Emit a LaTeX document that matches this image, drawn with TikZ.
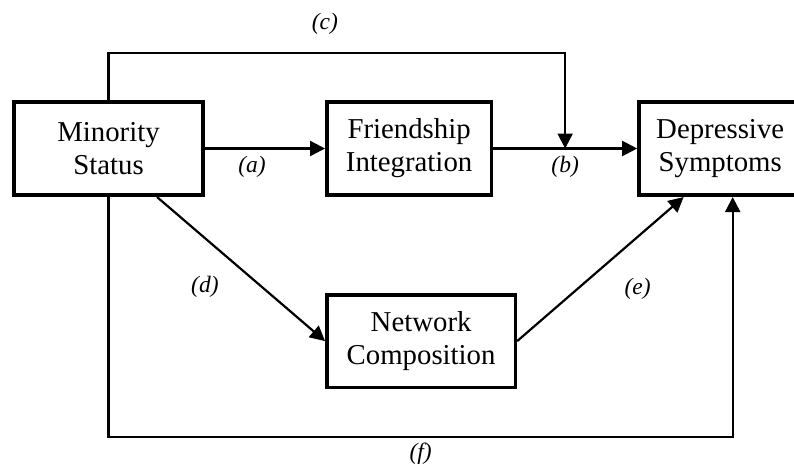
\documentclass[tikz,border=0pt]{standalone}
\usepackage{fontspec}
\setmainfont{Liberation Serif}
\usetikzlibrary{arrows.meta,positioning,calc}

\begin{document}
\begin{tikzpicture}[
  x=1pt, y=-1pt,
  box/.style={draw, line width=3.6pt, align=center, inner sep=0pt, minimum height=93.5pt, font=\fontsize{28.8}{33}\selectfont},
  lab/.style={font=\fontsize{23.5}{27}\selectfont\itshape},
  arr/.style={line width=2.2pt, -{Triangle[length=15pt,width=15pt]}}
]
\useasboundingbox (0,0) rectangle (794,467);

\node[box, minimum width=189.5pt] (minority) at (108.5,148.5) {Minority\\Status};
\node[box, minimum width=164.5pt, right=120pt of minority] (friend) {Friendship\\Integration};
\node[box, minimum width=162.5pt, right=144pt of friend] (depr) {Depressive\\Symptoms};
\node[box, minimum width=188.5pt, minimum height=92.5pt, below=96pt of friend.south west, anchor=north west] (network) {Network\\Composition};

% direct paths
\draw[arr] (minority) -- node[lab, below=3pt, xshift=-13pt]{(a)} (friend);
\draw[arr] (friend) -- node[lab, below=3pt]{(b)} (depr);

% (c) comes down onto the (b) path
\coordinate (cjoin) at ($(friend.east)!0.5!(depr.west)$);
\draw[arr] (minority.north) -- ++(0,-47) -| node[lab, pos=0.25, above=14pt, xshift=-12pt]{(c)} (cjoin);

% via network composition
\draw[arr] (minority.-45) -- node[lab, pos=0.625, left=39pt]{(d)} (network.west);
\draw[arr] (network.east) -- node[lab, pos=0.36, right=43pt]{(e)} (depr.-127);

% (f) runs round the bottom
\draw[arr] (minority.south) -- ++(0,240) -| node[lab, pos=0.25, below=1pt]{(f)} ([xshift=12.5pt]depr.south);
\end{tikzpicture}
\end{document}
